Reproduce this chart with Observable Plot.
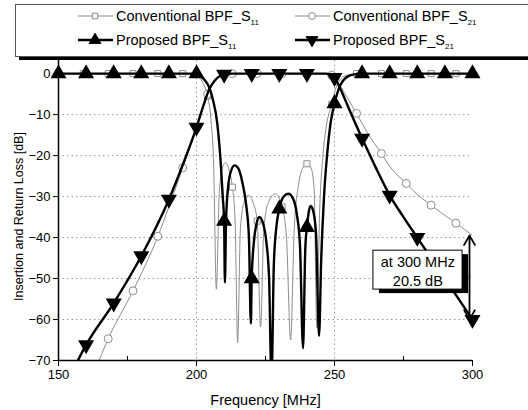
<!DOCTYPE html>
<html>
<head>
<meta charset="utf-8">
<script src="https://cdn.jsdelivr.net/npm/d3@7"></script>
<script src="https://cdn.jsdelivr.net/npm/@observablehq/plot@0.6"></script>
<style>
  body { margin: 0; background: #fff; font-family: "Liberation Sans", Arial, sans-serif; }
  #wrap { position: relative; width: 528px; height: 410px; overflow: hidden; background: #fff; }
  #wrap > svg { position: absolute; left: 0; top: 0; }
</style>
</head>
<body>
<div id="wrap"></div>
<script>
// ---- data (frequency MHz, dB) ----
const convS11 = [
  [150,0],[159,0],[168,0],[177,0],[186,0],[195,0],[199,-0.3],[201,-1],[202.5,-2.5],[204,-5.5],
  [205.2,-11],[206.2,-22],[207.2,-52.6],[208.2,-30],[209.2,-23.5],[210.5,-21.7],[211.8,-23.5],
  [213,-27.7],[214,-36],[214.9,-65.7],[215.9,-38],[217.2,-31.5],[218.8,-29.7],[220.5,-31.5],
  [222,-36],[223.2,-61.8],[224.4,-38],[226,-31.5],[228.6,-29.3],[231,-32.5],[232.6,-40],
  [234.1,-65],[235.4,-38],[237,-27],[238.5,-23],[240,-22],[241.5,-23],[242.6,-28],[243.6,-62],
  [244.6,-34],[245.8,-20],[247,-13],[249,-7.5],[250.5,-3.5],[252,-1.5],[254,-0.5],[258,0],
  [267,0],[276,0],[285,0],[294,0],[300,0]
];
const convS21 = [
  [163.5,-72],[168,-64.7],[177,-53],[186,-39.7],[190,-32.5],[195,-23],[199,-15],[201.5,-10],
  [204,-5],[206,-2.3],[208,-0.8],[210,-0.2],[213,0],[222,0],[231,0],[240,0],[246,0],[249,-0.4],
  [251,-1.8],[253,-4],[255.5,-6.8],[258,-9.7],[262,-14.5],[267,-19.5],[271,-23.5],[276,-26.8],
  [280,-29.5],[285,-32.1],[290,-34.6],[294,-36.5],[300,-39.5]
];
const propS11 = [
  [150,0],[160,0],[170,0],[180,0],[190,0],[200,0],[201.5,-0.6],[203,-1.6],[204.5,-3.2],[206,-6.5],
  [207.5,-12],[208.7,-21],[209.5,-30],[210,-36],[210.3,-51],[210.7,-36],[211.4,-28],[212.4,-24],
  [213.8,-22.4],[215.2,-23.2],[216.6,-26.5],[218,-32],[219,-40],[219.7,-61],[220,-50],[220.8,-41],
  [221.8,-36.5],[222.8,-35],[224,-36.3],[225.3,-41],[226.3,-50],[227.2,-75],[228,-47],[229,-37],
  [230,-33],[231.6,-30],[233.3,-29.3],[235,-30.5],[236.4,-34.5],[237.5,-42],[238.6,-67],[239.4,-43],
  [240,-37.5],[240.6,-34],[241.3,-32.3],[242.2,-33.3],[243.3,-39],[244.4,-64],[245.2,-45],
  [246.2,-30],[247.3,-20],[248.6,-12],[250,-7.3],[251.5,-3.8],[253,-1.8],[255,-0.6],[258,-0.1],
  [260,0],[270,0],[280,0],[290,0],[300,0]
];
const propS21 = [
  [155.5,-72],[160,-66.2],[170,-56],[180,-44.5],[190,-30.7],[195,-22.3],[200,-13.1],[202.5,-7.8],
  [204.5,-4],[206.5,-1.8],[208.5,-0.6],[210,-0.2],[213,0],[220,0],[230,0],[240,0],[247,0],
  [249,-0.4],[250,-1],[252,-3.5],[255,-8.2],[260,-15.8],[265,-23],[270,-29.7],[275,-35],
  [280,-40],[290,-50],[300,-60]
];
const convMarkerFreqs = [150,159,168,177,186,195,204,213,222,231,240,249,258,267,276,285,294];
const propMarkerStep = 10;

const xTicks = [150, 200, 250, 300];
const xMinorTicks = [175, 225, 275];
const yTicks = [0, -10, -20, -30, -40, -50, -60, -70];
const gridYValues = [-10, -20, -30, -40, -50, -60];
const gridXValues = [200, 250];
const xTitle = "Frequency [MHz]";
const yTitle = "Insertion and Return Loss [dB]";

const legendLabels = [
  {name: "Conventional BPF_S", sub: "11"},
  {name: "Conventional BPF_S", sub: "21"},
  {name: "Proposed BPF_S", sub: "11"},
  {name: "Proposed BPF_S", sub: "21"}
];

// annotation: difference at 300 MHz
const noteArrow = [{freq: 300, from: -49.5, to: -39.5}, {freq: 300, from: -49.5, to: -60}];
const noteBox = [{x1: 264.1, x2: 296.4, y1: -43.2, y2: -52.7}];
const noteText = [
  {freq: 280.2, db: -46.1, text: "at 300 MHz"},
  {freq: 280.2, db: -50.6, text: "20.5 dB"}
];

// ---- build ----
const rows = a => a.map(([f, v]) => ({f, v}));
const c11 = rows(convS11), c21 = rows(convS21), p11 = rows(propS11), p21 = rows(propS21);
const convMarks = d => convMarkerFreqs.includes(d.f);
const propMarks = d => Number.isInteger(d.f) && d.f % propMarkerStep === 0;
const gray = "#8c8c8c";

const chart = Plot.plot({
  width: 528, height: 410,
  marginLeft: 58, marginRight: 56, marginTop: 60, marginBottom: 50,
  style: {fontFamily: "'Liberation Sans', Arial, sans-serif", fontSize: "13px", background: "transparent", color: "#000"},
  x: {domain: [150, 300]},
  y: {domain: [-70, 3.2]},
  marks: [
    Plot.ruleY(gridYValues, {stroke: "#999", strokeDasharray: "1.5,3", strokeWidth: 1}),
    Plot.ruleX(gridXValues, {stroke: "#999", strokeDasharray: "1.5,3", strokeWidth: 1}),
    Plot.line(c11, {x: "f", y: "v", stroke: gray, strokeWidth: 1, curve: "monotone-x", clip: true}),
    Plot.line(c21, {x: "f", y: "v", stroke: gray, strokeWidth: 1, curve: "monotone-x", clip: true}),
    Plot.dot(c11.filter(convMarks), {x: "f", y: "v", symbol: "square", r: 3.4, stroke: gray, fill: "white", strokeWidth: 1}),
    Plot.dot(c21.filter(convMarks), {x: "f", y: "v", symbol: "circle", r: 4, stroke: gray, fill: "white", strokeWidth: 1, clip: true}),
    Plot.line(p11, {x: "f", y: "v", stroke: "black", strokeWidth: 2.4, curve: "monotone-x", clip: true}),
    Plot.line(p21, {x: "f", y: "v", stroke: "black", strokeWidth: 2.4, curve: "monotone-x", clip: true}),
    Plot.dot(p11.filter(propMarks), {x: "f", y: "v", symbol: "triangle", r: 5, fill: "black", stroke: "black"}),
    Plot.dot(p21.filter(propMarks), {x: "f", y: "v", symbol: "triangle", rotate: 180, r: 5, fill: "black", stroke: "black"}),
    Plot.rect(noteBox, {x1: "x1", x2: "x2", y1: "y1", y2: "y2", fill: "black", dx: 6, dy: 4}),
    Plot.rect(noteBox, {x1: "x1", x2: "x2", y1: "y1", y2: "y2", fill: "white", stroke: "black", strokeWidth: 1}),
    Plot.text(noteText, {x: "freq", y: "db", text: "text", fontSize: 14.5, fill: "black"}),
    Plot.arrow(noteArrow, {x1: "freq", y1: "from", x2: "freq", y2: "to", stroke: "black", strokeWidth: 1.8, headLength: 9, dx: -3}),
    Plot.ruleX([150], {stroke: "black", strokeWidth: 1.5}),
    Plot.ruleY([-70], {stroke: "black", strokeWidth: 1.5}),
    Plot.axisX({ticks: xTicks, tickSize: 6, tickPadding: 3, fontSize: 13, label: null}),
    Plot.axisX({ticks: xMinorTicks, tickSize: -4, text: null, label: null}),
    Plot.axisY({ticks: yTicks, tickSize: 5, tickPadding: 3, fontSize: 13, label: null}),
    Plot.text([xTitle], {frameAnchor: "bottom", textAnchor: "middle", lineAnchor: "middle", dy: 40, fontSize: 14.5, text: d => d, fill: "black"}),
    Plot.text([yTitle], {frameAnchor: "left", textAnchor: "middle", lineAnchor: "middle", rotate: -90, dx: -40, dy: 6, fontSize: 12.5, text: d => d, fill: "black"})
  ]
});
document.getElementById("wrap").appendChild(chart);

// ---- legend (overlay at top) ----
const lg = d3.select("#wrap").append("svg")
  .attr("width", 528).attr("height", 64)
  .style("font-family", "'Liberation Sans', Arial, sans-serif");
lg.append("rect").attr("x", 19).attr("y", 8).attr("width", 540).attr("height", 52).attr("fill", "black");
lg.append("rect").attr("x", 15.5).attr("y", 4.5).attr("width", 540).attr("height", 52).attr("fill", "white").attr("stroke", "#555").attr("stroke-width", 1);

const legendItems = [
  {label: legendLabels[0], x: 78, y: 16, kind: "conv", sym: d3.symbolSquare},
  {label: legendLabels[1], x: 295, y: 16, kind: "conv", sym: d3.symbolCircle},
  {label: legendLabels[2], x: 78, y: 40, kind: "prop", sym: d3.symbolTriangle, rot: 0},
  {label: legendLabels[3], x: 295, y: 40, kind: "prop", sym: d3.symbolTriangle, rot: 180}
];
for (const it of legendItems) {
  const conv = it.kind === "conv";
  lg.append("line").attr("x1", it.x).attr("x2", it.x + 35).attr("y1", it.y).attr("y2", it.y)
    .attr("stroke", conv ? gray : "black").attr("stroke-width", conv ? 1 : 2.4);
  lg.append("path")
    .attr("d", d3.symbol(it.sym, conv ? (it.sym === d3.symbolSquare ? 30 : 36) : 60)())
    .attr("transform", `translate(${it.x + 17},${it.y}) rotate(${it.rot || 0})`)
    .attr("fill", conv ? "white" : "black").attr("stroke", conv ? gray : "black");
  const t = lg.append("text").attr("x", it.x + 38).attr("y", it.y + 5).attr("font-size", 14.5).attr("fill", "black");
  t.append("tspan").text(it.label.name);
  t.append("tspan").attr("dy", 4).attr("font-size", 8).text(it.label.sub);
}
</script>
</body>
</html>
